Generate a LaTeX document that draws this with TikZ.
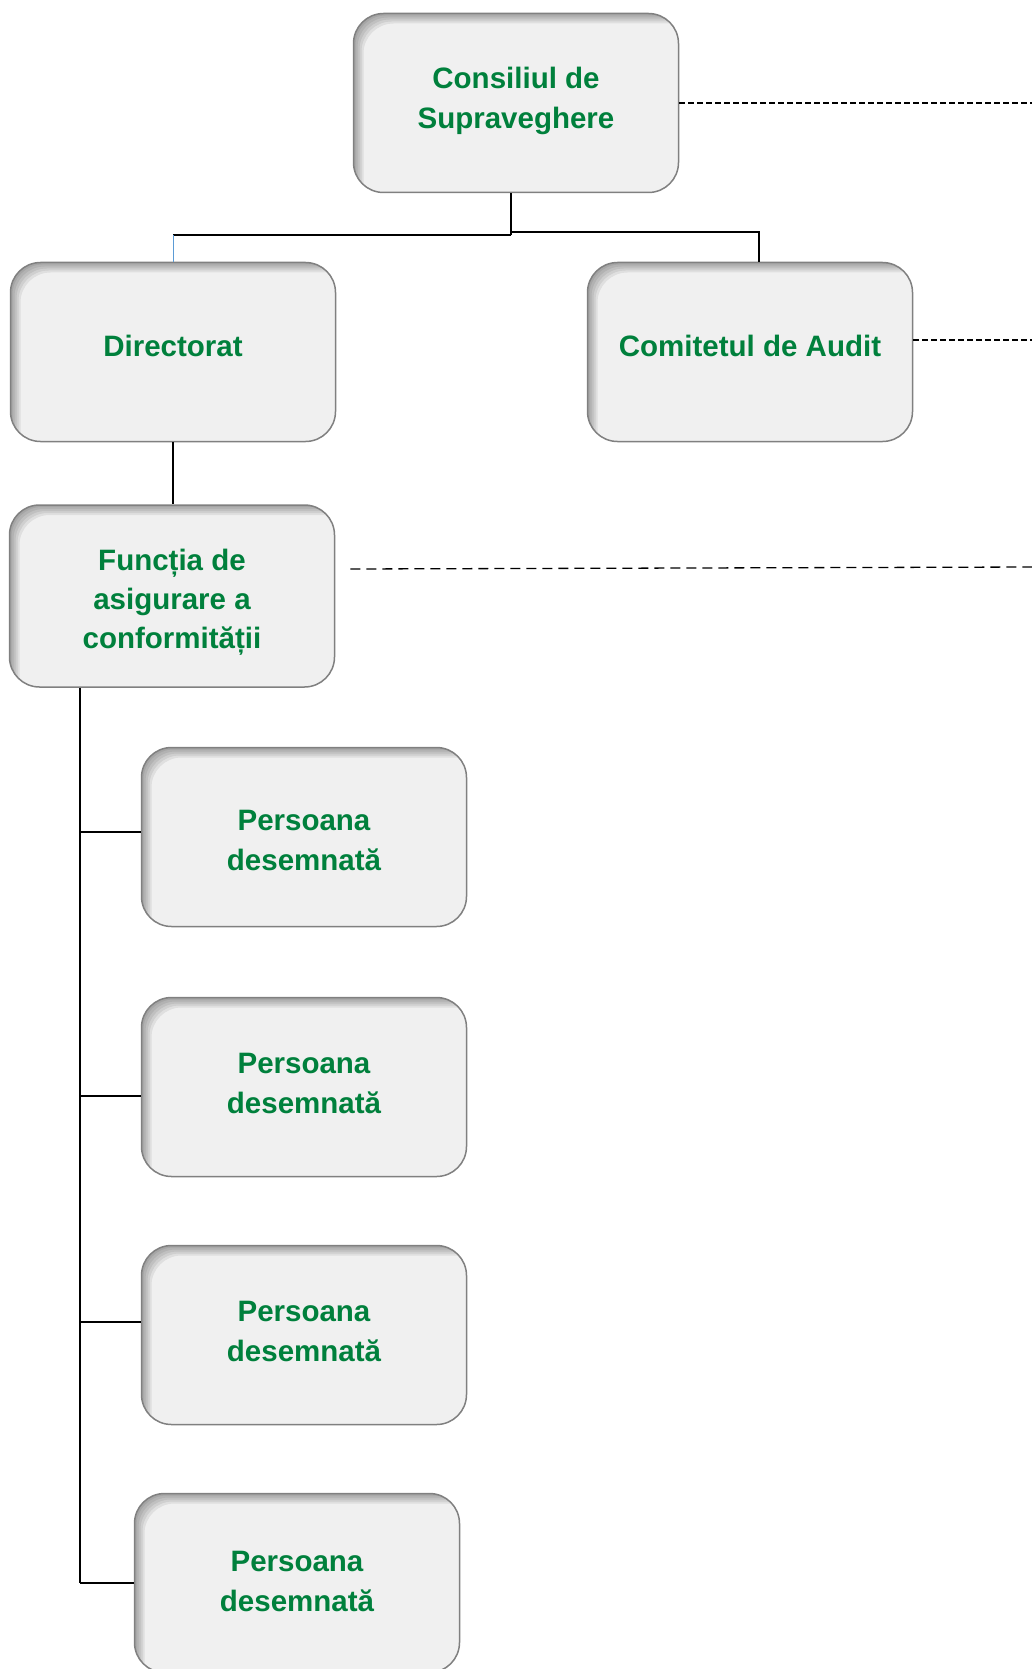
\documentclass[tikz,border=0pt]{standalone}
\usepackage{fontspec}
\setmainfont{Liberation Sans}
\definecolor{boxgreen}{RGB}{0,128,60}
\definecolor{boxfill}{RGB}{240,240,240}
\definecolor{boxline}{RGB}{128,128,128}
\definecolor{lineblue}{RGB}{91,155,213}
\newcommand{\liftby}[2]{\raisebox{#1}[\height][\depth]{\begin{tabular}{@{}c@{}}#2\end{tabular}}}

\begin{document}
\begin{tikzpicture}[x=1pt,y=-1pt,
		box/.style={draw=boxline,line width=1.5pt,fill=boxfill,rounded corners=30pt,
			minimum width=325pt,minimum height=179pt,align=center,
			font=\fontsize{29.5}{40}\selectfont\bfseries,text=boxgreen,
			path picture={
				\foreach \d in {2,4,6,8,10}{
					\fill[black,opacity=0.07,even odd rule]
					([xshift=-20pt,yshift=20pt]path picture bounding box.north west) rectangle
					([xshift=20pt,yshift=-20pt]path picture bounding box.south east)
					[rounded corners=30pt]
					([xshift=\d pt,yshift=-\d pt]path picture bounding box.north west) rectangle
					([xshift=60pt,yshift=-60pt]path picture bounding box.south east);
				}
			}},
		link/.style={line width=1.6pt},
		dashlink/.style={line width=1.3pt,dash pattern=on 6pt off 3pt}]
		\useasboundingbox (0,0) rectangle (1032,1669);
		\node[box] (cons) at (516,103) {\liftby{2pt}{Consiliul de\\Supraveghere}};
		\node[box] (dir) at (173,352) {\liftby{3pt}{Directorat}};
		\node[box] (audit) at (750,352) {\liftby{4pt}{Comitetul de Audit}};
		\node[box,minimum height=182pt,font=\fontsize{29.5}{39}\selectfont\bfseries] (func) at (172,596)
			{\liftby{-6pt}{Funcția de\\asigurare a\\conformității}};
		\node[box] (p1) at (304,837) {\liftby{-5pt}{Persoana\\desemnată}};
		\node[box] (p2) at (304,1087) {\liftby{2pt}{Persoana\\desemnată}};
		\node[box] (p3) at (304,1335) {\liftby{2pt}{Persoana\\desemnată}};
		\node[box] (p4) at (297,1583) {\liftby{0pt}{Persoana\\desemnată}};
		% tree lines
		\coordinate (split) at (511,232);
		\coordinate (splitleft) at (511,235);
		\coordinate (audtop) at (759,232);
		\coordinate (spine) at (80,1583);
		\coordinate (edge) at (1032,0);
		\draw[link] (split |- cons.south) -- (splitleft);
		\draw[link] (splitleft) -- (splitleft -| dir.north);
		\draw[lineblue,line width=1pt] (splitleft -| dir.north) -- (dir.north);
		\draw[link] (split) -- (audtop) -- (audtop |- audit.north);
		\draw[link] (dir.south) -- (dir.south |- func.north);
		\draw[link] (func.south -| spine) -- (spine);
		\draw[link] ([yshift=5pt]p1.west -| spine) -- ([yshift=5pt]p1.west);
		\draw[link] ([yshift=-9pt]p2.west -| spine) -- ([yshift=-9pt]p2.west);
		\draw[link] ([yshift=13pt]p3.west -| spine) -- ([yshift=13pt]p3.west);
		\draw[link] (p4.west -| spine) -- (p4.west);
		% dashed lines to the right
		\draw[dashlink] (cons.east) -- (cons.east -| edge);
		\draw[dashlink] ([yshift=12pt]audit.east) -- ([yshift=12pt]audit.east -| edge);
		\draw[dashlink,dash pattern=on 10pt off 6pt] ([xshift=15pt,yshift=27pt]func.east) -- ([yshift=29pt]func.east -| edge);
\end{tikzpicture}
\end{document}
